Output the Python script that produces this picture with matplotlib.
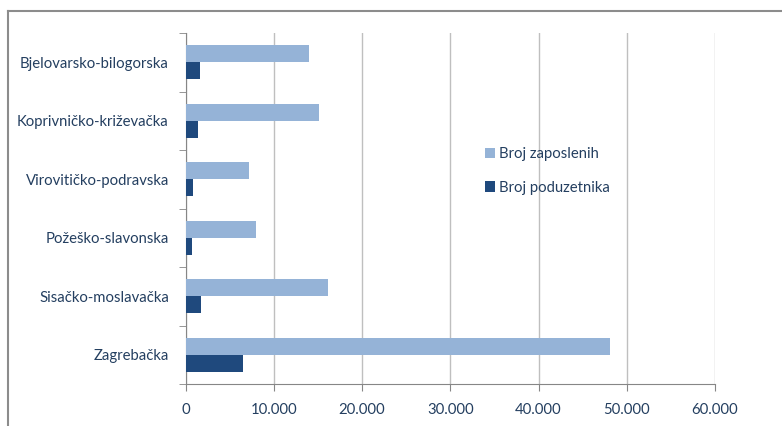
import matplotlib.pyplot as plt
import numpy as np
from matplotlib.lines import Line2D

# data (bottom to top as drawn)
counties = ["Zagrebačka", "Sisačko-moslavačka", "Požeško-slavonska",
            "Virovitičko-podravska", "Koprivničko-križevačka", "Bjelovarsko-bilogorska"]
zaposleni = [48100, 16150, 7950, 7180, 15150, 14000]
poduzetnici = [6530, 1810, 710, 860, 1470, 1620]
xticks = [0, 10000, 20000, 30000, 40000, 50000, 60000]

light = "#95B3D7"
dark = "#1F497D"
txt = "#243F60"
grid = "#BFBFBF"

plt.rcParams['font.family'] = ['Lato', 'DejaVu Sans']

fig = plt.figure(figsize=(7.82, 4.26), dpi=100)
ax = fig.add_axes([185.5 / 782, 1 - 384 / 426, (715 - 185.5) / 782, (384 - 33) / 426])

y = np.arange(len(counties))
h = 0.287
ax.barh(y + h / 2, zaposleni, height=h, color=light, label="Broj zaposlenih", zorder=3)
ax.barh(y - h / 2, poduzetnici, height=h, color=dark, label="Broj poduzetnika", zorder=3)

ax.set_xlim(0, 60000)
ax.set_ylim(-0.5, len(counties) - 0.5)
ax.set_xticks(xticks)
ax.set_xticklabels([f"{v:,}".replace(",", ".") for v in xticks])
ax.set_yticks(y)
ax.set_yticklabels(counties)
ax.set_yticks(np.arange(-0.5, len(counties)), minor=True)
ax.xaxis.grid(True, color=grid, linewidth=1, zorder=0)

ax.tick_params(axis='y', which='major', length=0, pad=12, labelsize=10.7, labelcolor=txt)
ax.tick_params(axis='y', which='minor', length=5, color="#868686", direction='out')
ax.tick_params(axis='x', which='major', length=5, color="#868686", pad=9, labelsize=10.7, labelcolor=txt)

for s in ['top', 'right']:
    ax.spines[s].set_visible(False)
for s in ['left', 'bottom']:
    ax.spines[s].set_color("#868686")

ax.legend(loc='upper left', bbox_to_anchor=(478 / 782, 1 - 140 / 426), bbox_transform=fig.transFigure,
          frameon=False, fontsize=10.7, labelcolor=txt, handlelength=0.62, handleheight=0.7,
          handletextpad=0.3, labelspacing=1.3, borderpad=0)

# outer frame (left and top edges)
fig.add_artist(Line2D([8 / 782, 8 / 782], [0, 1 - 11 / 426], color="#8C8C8C", linewidth=1.5))
fig.add_artist(Line2D([8 / 782, 1], [1 - 11 / 426, 1 - 11 / 426], color="#8C8C8C", linewidth=1.5))

fig.savefig("out.png", dpi=100)
